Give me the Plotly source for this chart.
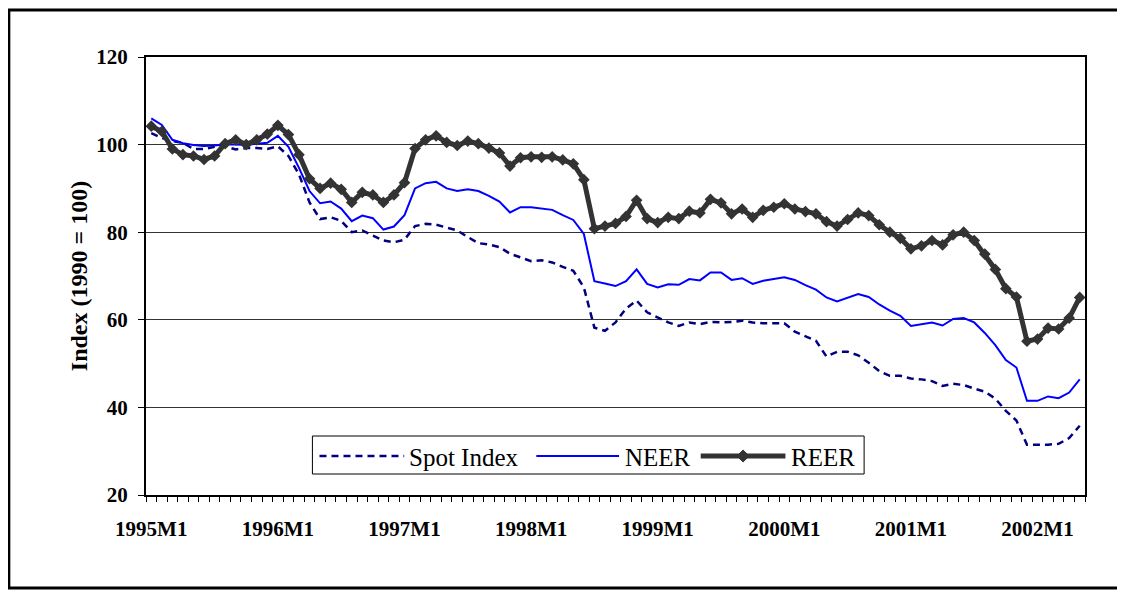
import plotly.graph_objects as go

months = [f"{y}M{m}" for y in range(1995, 2003) for m in range(1, 13)][:89]

spot = [102.6, 101.5, 100.8, 100.4, 99.0, 99.0, 99.5, 99.6, 98.9, 99.2, 99.2, 99.0,
        99.6, 97.4, 93.2, 86.8, 83.0, 83.4, 82.6, 80.0, 80.4, 79.2, 78.1, 77.7,
        78.3, 81.4, 81.9, 81.7, 81.1, 80.4, 78.9, 77.5, 77.2, 76.6, 75.1, 74.3,
        73.4, 73.6, 73.1, 72.1, 71.2, 67.4, 58.2, 57.5, 59.4, 62.6, 64.4, 61.7,
        60.5, 59.4, 58.6, 59.4, 59.0, 59.5, 59.4, 59.5, 59.8, 59.4, 59.2, 59.2,
        59.2, 57.3, 56.3, 55.2, 51.6, 52.7, 52.7, 51.9, 50.2, 48.3, 47.2, 47.2,
        46.6, 46.4, 46.0, 44.9, 45.4, 45.1, 44.3, 43.6, 42.0, 39.2, 37.0, 31.5,
        31.5, 31.5, 31.7, 33.0, 35.8]

neer = [106.0, 104.5, 101.1, 100.3, 99.9, 99.7, 99.8, 100.0, 100.0, 99.9, 100.2, 100.4,
        102.0, 99.5, 94.7, 89.4, 86.6, 87.0, 85.4, 82.5, 83.8, 83.2, 80.6, 81.3,
        83.9, 90.0, 91.2, 91.5, 90.0, 89.4, 89.8, 89.4, 88.3, 87.0, 84.5, 85.7,
        85.7, 85.4, 85.1, 83.9, 82.8, 79.6, 68.8, 68.3, 67.7, 68.8, 71.5, 68.2,
        67.4, 68.1, 68.0, 69.3, 69.0, 70.8, 70.8, 69.1, 69.5, 68.2, 68.9, 69.3,
        69.7, 69.1, 67.9, 66.9, 65.1, 64.2, 65.1, 65.9, 65.2, 63.5, 62.1, 60.9,
        58.6, 59.0, 59.4, 58.7, 60.2, 60.4, 59.4, 57.0, 54.2, 50.8, 49.1, 41.5,
        41.5, 42.5, 42.1, 43.4, 46.4]

reer = [104.2, 103.0, 99.0, 97.7, 97.4, 96.6, 97.4, 100.2, 101.1, 100.0, 101.1, 102.4,
        104.4, 102.3, 97.7, 92.2, 90.0, 91.2, 89.8, 86.8, 89.1, 88.5, 86.8, 88.5,
        91.3, 99.1, 101.1, 102.0, 100.5, 99.8, 100.8, 100.2, 99.2, 98.1, 95.1, 97.0,
        97.2, 97.1, 97.2, 96.5, 95.6, 92.0, 80.8, 81.4, 82.0, 83.6, 87.3, 83.1,
        82.2, 83.4, 83.1, 84.8, 84.4, 87.5, 86.7, 84.2, 85.3, 83.4, 85.0, 85.7,
        86.5, 85.3, 84.7, 84.2, 82.4, 81.4, 82.9, 84.4, 83.8, 81.7, 80.0, 78.6,
        76.2, 76.9, 78.1, 77.1, 79.4, 80.0, 78.1, 75.0, 71.5, 67.1, 65.2, 55.1,
        55.6, 58.1, 57.9, 60.4, 65.1]

series_names = ["Spot Index", "NEER", "REER"]
tick_text = [m if m.endswith("M1") else "" for m in months]
y_ticks = [20, 40, 60, 80, 100, 120]

SERIF = "Liberation Serif, Times New Roman, serif"
SPOT_STYLE = dict(color="#000080", width=2.5, dash="7px,5px")
NEER_STYLE = dict(color="#0000FF", width=2)
REER_STYLE = dict(color="#333333", width=5)

fig = go.Figure()
fig.add_trace(go.Scatter(x=months, y=spot, name=series_names[0], mode="lines",
                         line=SPOT_STYLE))
fig.add_trace(go.Scatter(x=months, y=neer, name=series_names[1], mode="lines",
                         line=NEER_STYLE))
fig.add_trace(go.Scatter(x=months, y=reer, name=series_names[2], mode="lines+markers",
                         line=REER_STYLE,
                         marker=dict(symbol="diamond", size=9, color="#333333")))

# plot area in page pixels: x 146..1077, y 57..495 (page has 8px body margin)
PL, PR, PT, PB = 146, 1077, 57, 495
W, H = PR - PL, PB - PT


def px(x):
    return (x - PL) / W


def py(y):
    return (PB - y) / H


fig.update_layout(
    width=1117, height=582,
    margin=dict(l=PL - 8, r=1125 - 8 - PR, t=PT - 8, b=590 - PB),
    paper_bgcolor="white", plot_bgcolor="white",
    font=dict(family=SERIF, color="black"),
    showlegend=False,
    xaxis=dict(type="category", categoryorder="array", categoryarray=months,
               range=[-0.5, len(months) - 0.5],
               tickmode="array", tickvals=months, ticktext=tick_text,
               tickson="boundaries", ticks="outside", ticklen=5, tickwidth=1,
               tickcolor="black", showgrid=False, zeroline=False,
               showline=True, linecolor="black", linewidth=2, mirror=True,
               tickangle=0, ticklabelstandoff=14,
               tickfont=dict(family=SERIF, size=21, color="black", weight="bold")),
    yaxis=dict(range=[20, 120], tickmode="array", tickvals=y_ticks,
               ticks="outside", ticklen=6, tickcolor="black", tickwidth=1,
               showgrid=True, gridcolor="#333333", gridwidth=1, zeroline=False,
               showline=True, linecolor="black", linewidth=2, mirror=True,
               ticklabelstandoff=6,
               tickfont=dict(family=SERIF, size=21, color="black", weight="bold"),
               title=dict(text="Index (1990 = 100)", standoff=2,
                          font=dict(family=SERIF, size=24, color="black", weight="bold"))),
)

# outer chart-area frame
fig.add_shape(type="rect", xref="paper", yref="paper",
              x0=px(10), x1=px(1123), y0=py(588), y1=py(10),
              line=dict(color="black", width=3), fillcolor="rgba(0,0,0,0)", layer="above")

# legend (drawn as a bordered box with sample lines and labels)
LY = 456
fig.add_shape(type="rect", xref="paper", yref="paper",
              x0=px(311), x1=px(858), y0=py(474), y1=py(436),
              line=dict(color="black", width=1), fillcolor="white", layer="above")
samples = [(318, 402, SPOT_STYLE, 405), (533, 615, NEER_STYLE, 619), (696, 780, REER_STYLE, 784)]
for (x0, x1, style, tx), name in zip(samples, series_names):
    fig.add_shape(type="line", xref="paper", yref="paper",
                  x0=px(x0), x1=px(x1), y0=py(LY), y1=py(LY),
                  line=style, layer="above")
    fig.add_annotation(x=px(tx), y=py(LY + 1), xref="paper", yref="paper",
                       text=name, showarrow=False, xanchor="left", yanchor="middle",
                       font=dict(family=SERIF, size=25, color="black"))
# diamond marker in REER legend sample
cx, d = 738, 6
fig.add_shape(type="path", xref="paper", yref="paper",
              path=(f"M {px(cx - d)},{py(LY)} L {px(cx)},{py(LY - d)} "
                    f"L {px(cx + d)},{py(LY)} L {px(cx)},{py(LY + d)} Z"),
              line=dict(color="#333333", width=1), fillcolor="#333333", layer="above")

fig.write_html("out.html")
